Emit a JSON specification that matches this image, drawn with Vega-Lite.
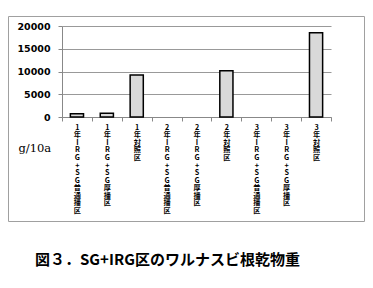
{
  "$schema": "https://vega.github.io/schema/vega-lite/v6.json",
  "autosize": {"type": "none"},
  "padding": {"left": 8, "top": 16, "right": 9, "bottom": 67},
  "width": 356,
  "height": 205,
  "background": "white",
  "title": {
    "text": "図３．SG+IRG区のワルナスビ根乾物重",
    "orient": "bottom",
    "anchor": "start",
    "dx": 27,
    "offset": 32,
    "baseline": "top",
    "font": "Noto Sans CJK JP",
    "fontSize": 15,
    "fontWeight": "bold",
    "color": "black"
  },
  "config": {
    "view": {"stroke": "#a0a0a0", "strokeWidth": 1}
  },
  "data": {
    "values": [
      {"区": "1年IRG+SG普通播区", "乾物重": 700},
      {"区": "1年IRG+SG厚播区", "乾物重": 850},
      {"区": "1年対照区", "乾物重": 9230},
      {"区": "2年IRG+SG普通播区", "乾物重": 0},
      {"区": "2年IRG+SG厚播区", "乾物重": 0},
      {"区": "2年対照区", "乾物重": 10150},
      {"区": "3年IRG+SG普通播区", "乾物重": 0},
      {"区": "3年IRG+SG厚播区", "乾物重": 0},
      {"区": "3年対照区", "乾物重": 18530}
    ]
  },
  "mark": {"type": "bar", "fill": "#d9d9d9", "stroke": "black", "strokeWidth": 1.5, "width": {"band": 0.44}},
  "encoding": {
    "x": {
      "field": "区",
      "type": "nominal",
      "sort": null,
      "scale": {"range": [54, 323], "paddingInner": 0, "paddingOuter": 0},
      "axis": {
        "title": null,
        "offset": -104,
        "tickBand": "extent",
        "tickSize": 4,
        "tickColor": "#888",
        "domainColor": "#888",
        "labelAngle": 0,
        "labelAlign": "center",
        "labelBaseline": "top",
        "labelPadding": 2,
        "labelExpr": "split(datum.label, '')",
        "labelFont": "Noto Sans CJK JP",
        "labelFontWeight": "bold",
        "labelFontSize": 7.2,
        "labelLineHeight": 7.6,
        "labelColor": "black",
        "labelOverlap": false,
        "labelFlush": false,
        "labelLimit": 0
      }
    },
    "y": {
      "field": "乾物重",
      "type": "quantitative",
      "scale": {"domain": [0, 20000], "range": [101, 10], "nice": false},
      "axis": {
        "title": "g/10a",
        "titleAngle": 0,
        "titleX": -44,
        "titleY": 132,
        "titleAlign": "left",
        "titleBaseline": "middle",
        "titleFont": "DejaVu Serif",
        "titleFontSize": 11.5,
        "titleFontWeight": "normal",
        "titleColor": "black",
        "offset": -54,
        "values": [0, 5000, 10000, 15000, 20000],
        "format": "d",
        "grid": true,
        "gridColor": "#999",
        "tickSize": 4,
        "tickColor": "#888",
        "domainColor": "#888",
        "labelPadding": 8,
        "labelFont": "DejaVu Sans",
        "labelFontWeight": "bold",
        "labelFontSize": 9.5,
        "labelColor": "black"
      }
    },
    "strokeOpacity": {
      "condition": {"test": "datum['乾物重'] == 0", "value": 0},
      "value": 1
    }
  }
}
